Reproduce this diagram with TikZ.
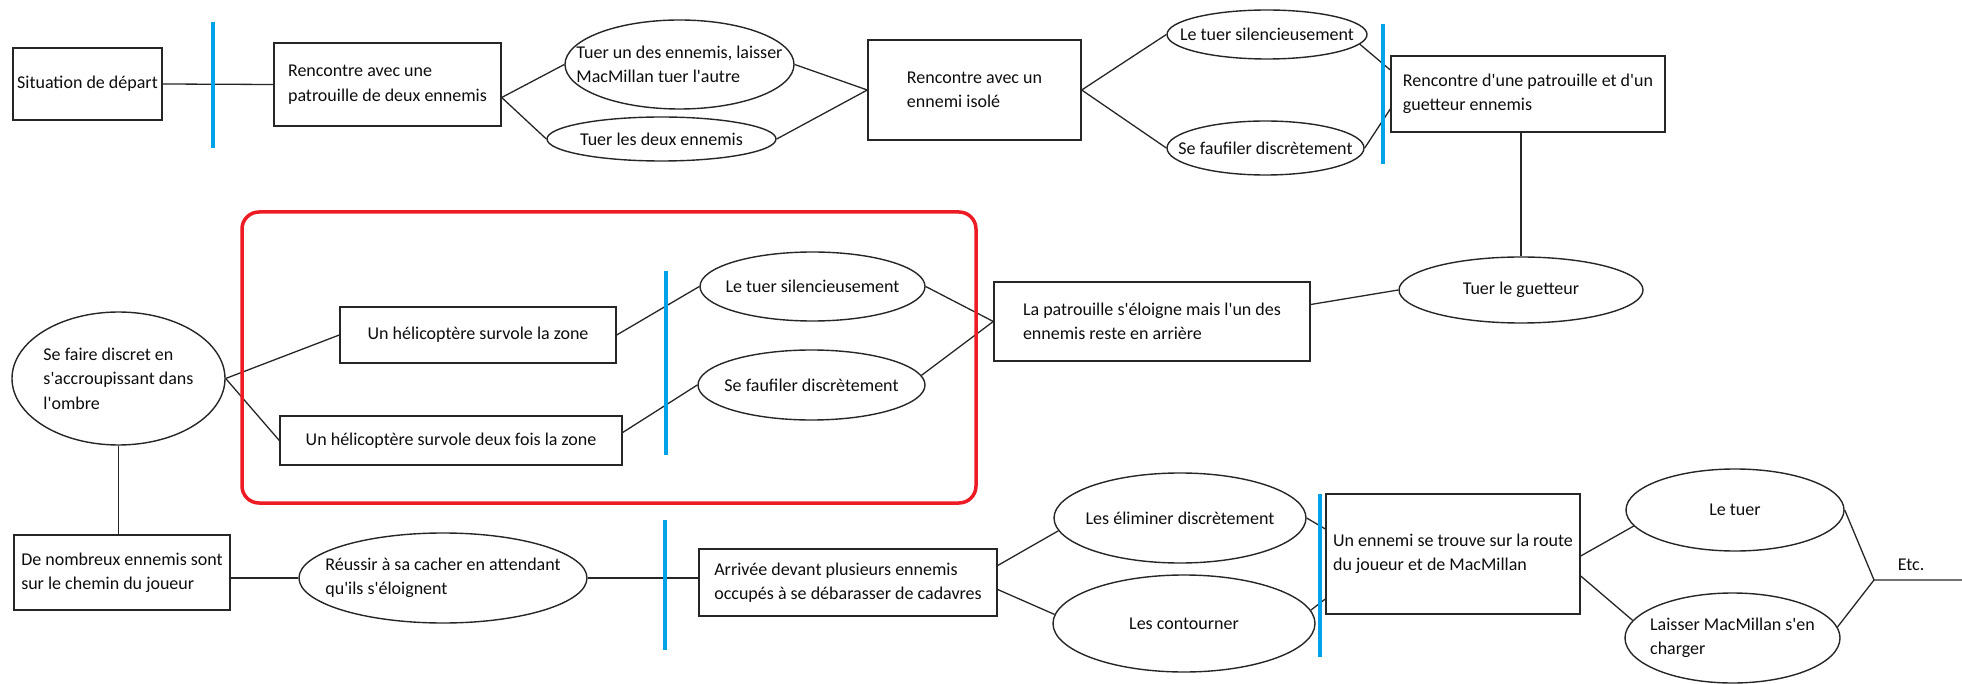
\documentclass[tikz,border=0pt]{standalone}
\usepackage{fontspec}
\setmainfont{Carlito}
\usetikzlibrary{shapes.geometric}

\definecolor{barblue}{HTML}{00A2E8}
\definecolor{zonered}{HTML}{ED1C24}

% straight apostrophe, as in the drawing
\newcommand{\ap}{\textquotesingle}

\tikzset{
  txt/.style={font=\fontsize{18}{24.4}\selectfont, align=left, text=black!95, inner sep=0pt},
  box/.style={draw=black!85, line width=1.4pt, txt},
  oval/.style={ellipse, draw=black!85, line width=1.4pt, inner sep=0pt},
  link/.style={draw=black!85, line width=1.3pt},
  gate/.style={draw=barblue, line width=4pt},
  zone/.style={draw=zonered, line width=3.5pt, rounded corners=17pt},
}

\begin{document}
\begin{tikzpicture}[x=1pt, y=-1pt]

\useasboundingbox (0,0) rectangle (1962,684);

% =========================
% TOP ROW
% =========================
\node[box, minimum width=149pt, minimum height=72pt] (start) at (87.5,84) {Situation de départ};
\node[box, minimum width=227pt, minimum height=83pt] (patrol) at (387.5,84.5)
    {Rencontre avec une\\patrouille de deux ennemis};
\node[oval, minimum width=229pt, minimum height=89pt,
    label={[txt]center:{Tuer un des ennemis, laisser\\MacMillan tuer l\ap autre}}] (killone) at (679.5,64.5) {};
\node[oval, minimum width=229pt, minimum height=44pt,
    label={[txt]center:Tuer les deux ennemis}] (killboth) at (661.5,139) {};
\node[box, minimum width=213pt, minimum height=100pt] (lone) at (974.5,90)
    {Rencontre avec un\\ennemi isolé};
\node[oval, minimum width=200pt, minimum height=49pt,
    label={[txt]center:Le tuer silencieusement}] (silentA) at (1267,34.5) {};
\node[oval, minimum width=197pt, minimum height=54pt,
    label={[txt]center:Se faufiler discrètement}] (sneakA) at (1265.5,148) {};
\node[box, minimum width=274pt, minimum height=76pt] (watch) at (1528,94)
    {Rencontre d\ap une patrouille et d\ap un\\guetteur ennemis};

% =========================
% MIDDLE ROW
% =========================
\node[oval, minimum width=213pt, minimum height=133pt,
    label={[txt]center:{Se faire discret en\\s\ap accroupissant dans\\l\ap ombre}}] (hide) at (118.5,378.5) {};
\node[box, minimum width=276pt, minimum height=56pt] (heliA) at (478,335) {Un hélicoptère survole la zone};
\node[box, minimum width=342pt, minimum height=49pt] (heliB) at (451,440.5) {Un hélicoptère survole deux fois la zone};
\node[oval, minimum width=225pt, minimum height=69pt,
    label={[txt]center:Le tuer silencieusement}] (silentB) at (812.5,286.5) {};
\node[oval, minimum width=227pt, minimum height=70pt,
    label={[txt]center:Se faufiler discrètement}] (sneakB) at (811.5,385) {};
\node[box, minimum width=316pt, minimum height=79pt] (retreat) at (1152,321.5)
    {La patrouille s\ap éloigne mais l\ap un des\\ennemis reste en arrière};
\node[oval, minimum width=244pt, minimum height=66pt,
    label={[txt]center:Tuer le guetteur}] (guard) at (1521,290) {};

% =========================
% BOTTOM ROW
% =========================
\node[box, minimum width=216pt, minimum height=75pt] (crowd) at (122,572.5)
    {De nombreux ennemis sont\\sur le chemin du joueur};
\node[oval, minimum width=288pt, minimum height=90pt,
    label={[txt]center:{Réussir à sa cacher en attendant\\qu\ap ils s\ap éloignent}}] (wait) at (443,578) {};
\node[box, minimum width=298pt, minimum height=67pt] (arrive) at (848,582.5)
    {Arrivée devant plusieurs ennemis\\occupés à se débarasser de cadavres};
\node[oval, minimum width=252pt, minimum height=90pt,
    label={[txt]center:Les éliminer discrètement}] (elim) at (1180,518) {};
\node[oval, minimum width=262pt, minimum height=97pt,
    label={[txt]center:Les contourner}] (around) at (1184,623.5) {};
\node[box, minimum width=254pt, minimum height=120pt] (road) at (1453,554)
    {Un ennemi se trouve sur la route\\du joueur et de MacMillan};
\node[oval, minimum width=218pt, minimum height=82pt,
    label={[txt]center:Le tuer}] (kill) at (1735,510) {};
\node[oval, minimum width=215pt, minimum height=90pt,
    label={[txt]center:{Laisser MacMillan s\ap en\\charger}}] (delegate) at (1732.5,638) {};
\coordinate (etcfork) at (1874,580);
\coordinate (etcend) at (1962,580);
\node[txt] (etc) at (1911,565) {Etc.};

% Links
\draw[link] (start.east) -- (patrol.west);
\draw[link] ([yshift=-13pt]patrol.east) -- (killone.west);
\draw[link] ([yshift=-13pt]patrol.east) -- (killboth.west);
\draw[link] (killone.east) -- (lone.west);
\draw[link] (killboth.east) -- (lone.west);
\draw[link] (lone.east) -- (silentA.west);
\draw[link] (lone.east) -- (sneakA.west);
\draw[link] (silentA.-6) -- ([yshift=24pt]watch.west);
\draw[link] (sneakA.east) -- ([yshift=-15pt]watch.west);
\draw[link] (watch.south -| guard.north) -- (guard.north);
\draw[link] ([yshift=17pt]retreat.east) -- (guard.west);
\draw[link] (silentB.east) -- (retreat.west);
\draw[link] (sneakB.5) -- (retreat.west);
\draw[link] (heliA.east) -- (silentB.west);
\draw[link] ([yshift=8pt]heliB.east) -- (sneakB.west);
\draw[link] (hide.east) -- (heliA.west);
\draw[link] (hide.east) -- (heliB.west);
\draw[link] (hide.south) -- (hide.south |- crowd.north);
\draw[link] (wait.west -| crowd.east) -- (wait.west);
\draw[link] (wait.east) -- (wait.east -| arrive.west);
\draw[link] ([yshift=17pt]arrive.east) -- (elim.186);
\draw[link] ([yshift=-7pt]arrive.east) -- (around.176);
\draw[link] (elim.east) -- ([yshift=25pt]road.west);
\draw[link] (around.6) -- ([yshift=-45pt]road.west);
\draw[link] ([yshift=-2pt]road.east) -- (kill.189);
\draw[link] ([yshift=-22pt]road.east) -- (delegate.170);
\draw[link] (kill.east) -- (etcfork) -- (etcend);
\draw[link] (delegate.6) -- (etcfork);

% Separators
\draw[gate] (212.5,22) -- (212.5,148);
\draw[gate] (1383,24) -- (1383,164);
\draw[gate] (665.5,271) -- (665.5,455);
\draw[gate] (665,520) -- (665,650);
\draw[gate] (1320,494) -- (1320,657);

% Highlighted zone
\draw[zone] (242,212) rectangle (976,503);

\end{tikzpicture}
\end{document}
